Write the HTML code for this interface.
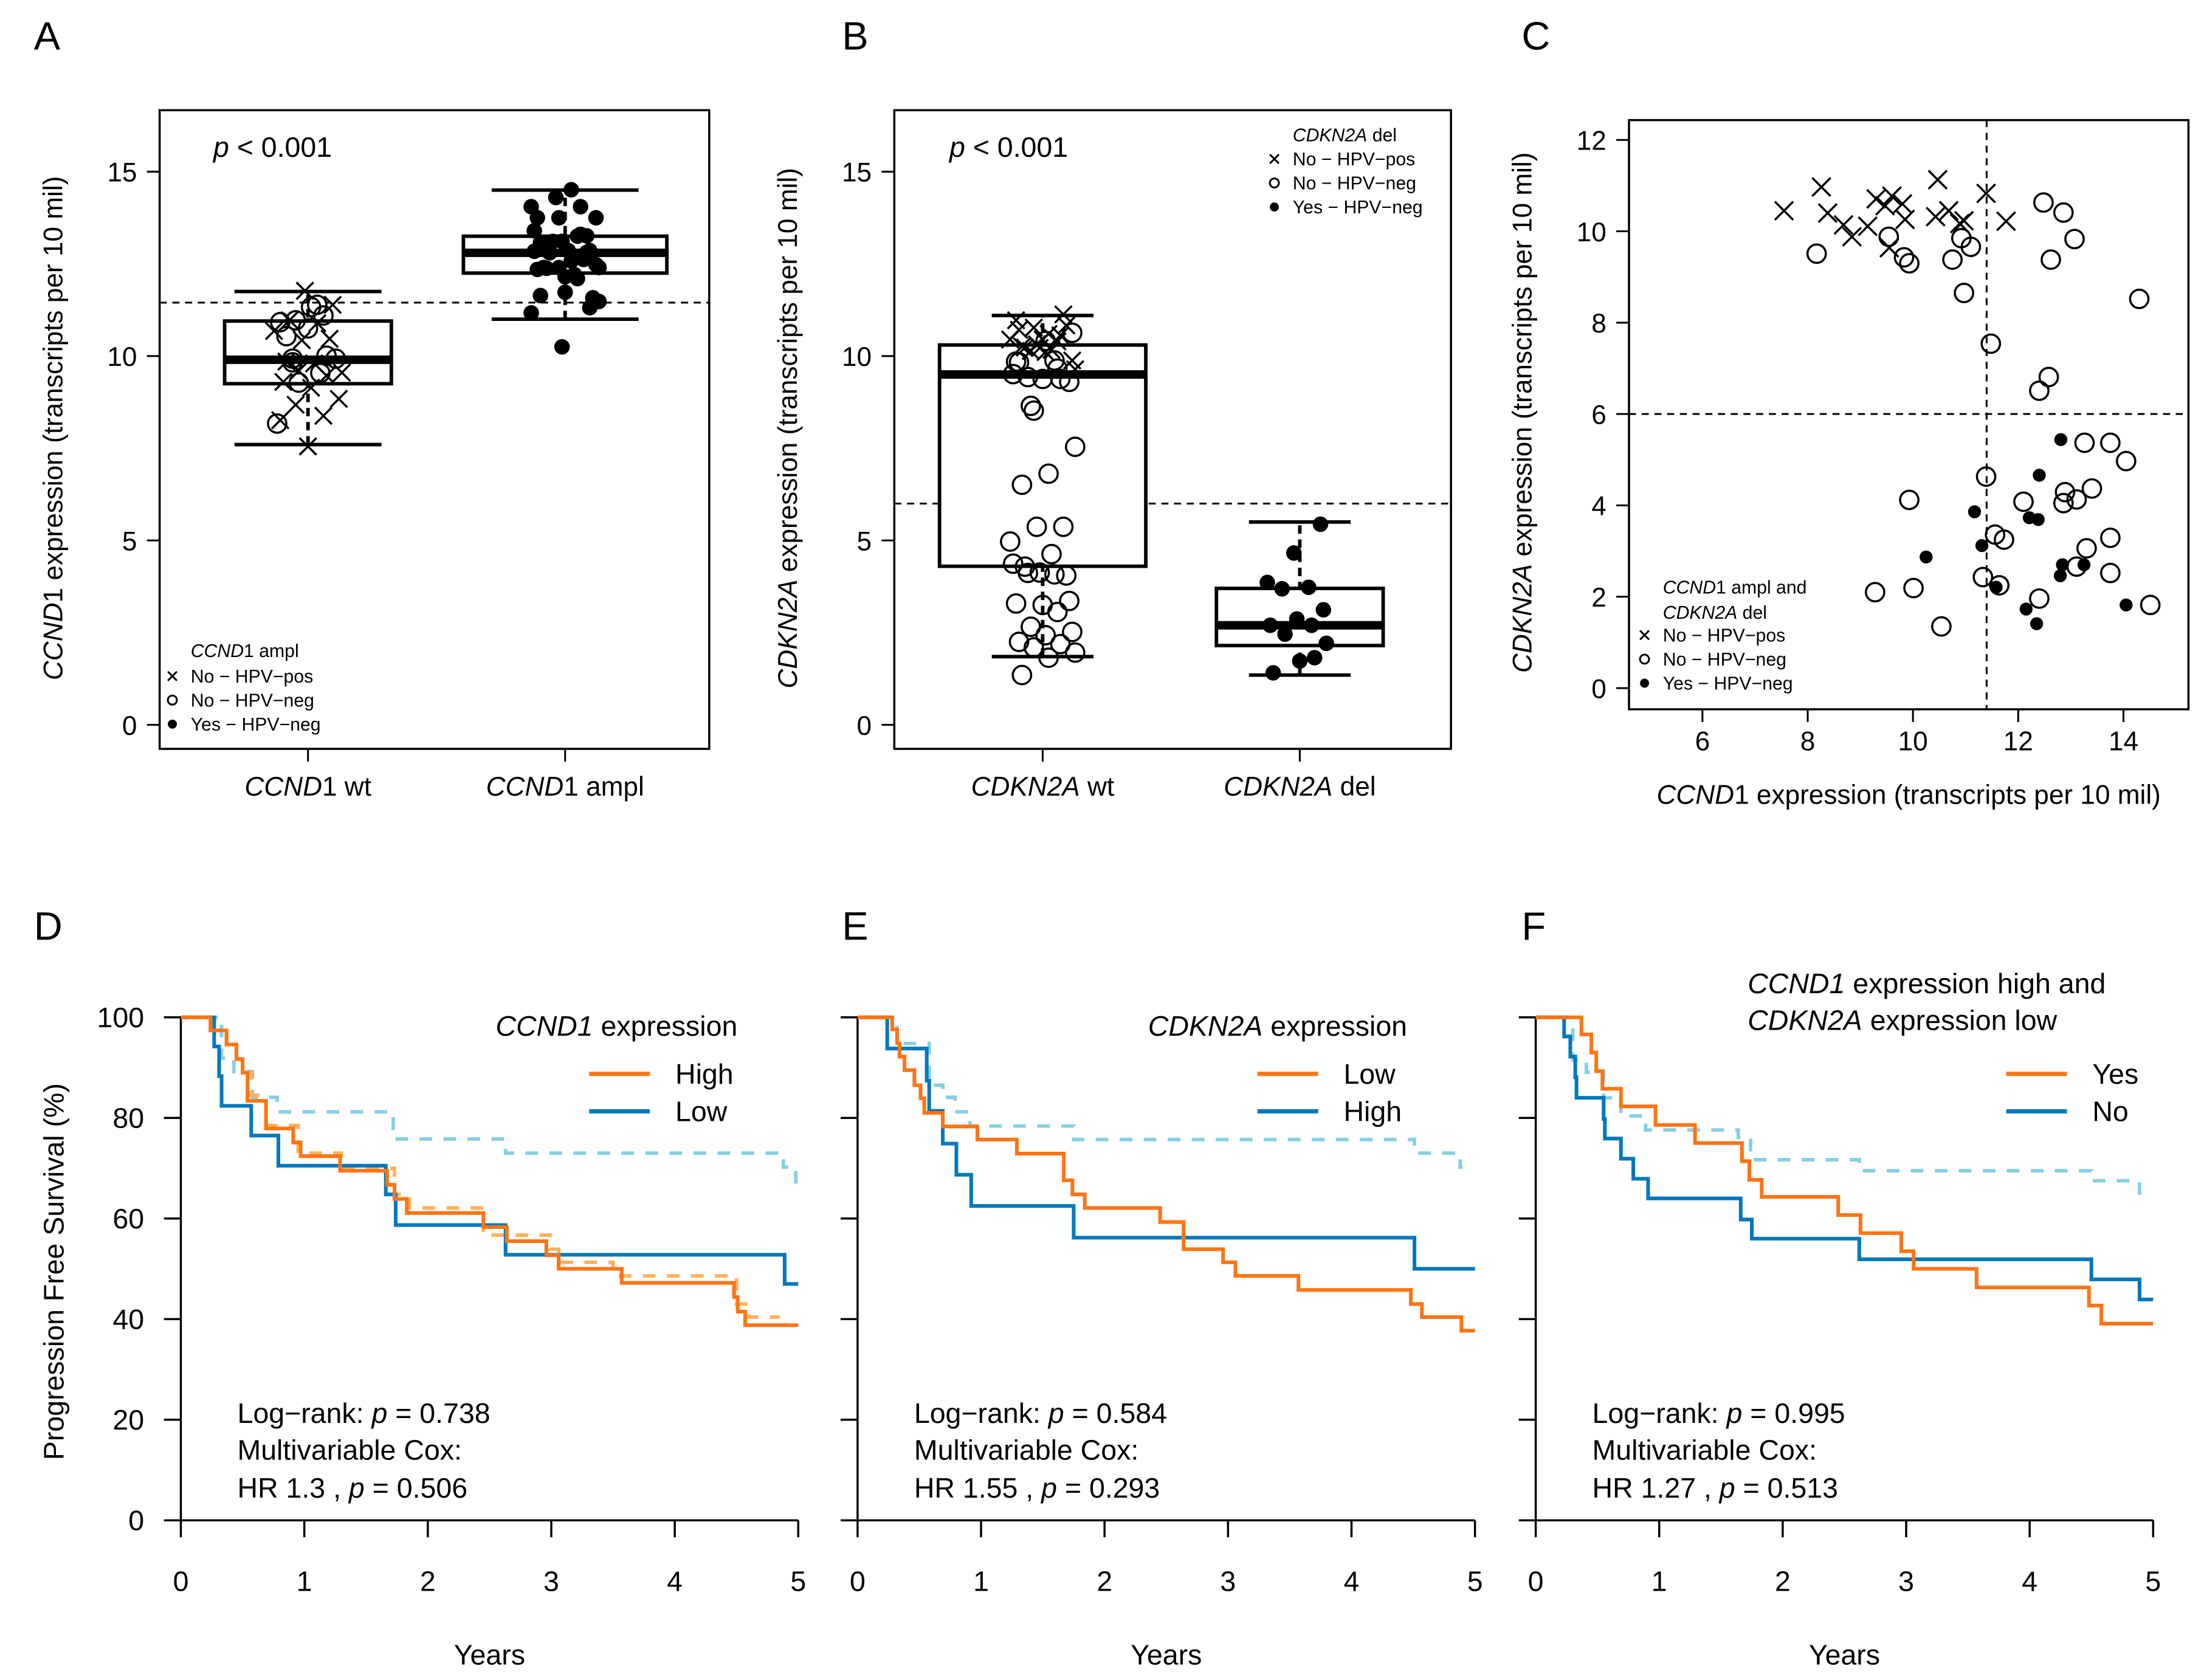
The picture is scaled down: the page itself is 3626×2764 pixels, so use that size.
<!DOCTYPE html>
<html><head><meta charset="utf-8">
<style>
html,body{margin:0;padding:0;background:#fff;}
svg{display:block;}
text{font-family:"Liberation Sans",Arial,sans-serif;fill:#000;}
.it{font-style:italic;}
</style></head>
<body>
<svg id="fig" xmlns="http://www.w3.org/2000/svg" width="3626" height="2764" viewBox="0 0 1560 1189" preserveAspectRatio="none">
<rect x="0" y="0" width="1560" height="1189" fill="#fff"/>
<g font-size="28">
<text x="24" y="35">A</text>
<text x="596" y="35">B</text>
<text x="1077" y="35">C</text>
<text x="24" y="665">D</text>
<text x="596" y="665">E</text>
<text x="1077" y="665">F</text>
</g>
</svg>
<script>
// ===== Scatter data (panel C; also drives A and B) =====
const crossX=[7.55,8.26,8.38,8.68,8.84,9.14,9.30,9.47,9.60,9.55,9.80,9.85,10.47,10.43,10.68,10.89,10.97,11.39,11.77];
const crossY=[10.45,10.97,10.40,10.14,9.88,10.11,10.71,10.56,10.77,9.64,10.60,10.26,11.13,10.32,10.45,10.17,10.23,10.83,10.22];
const openX=[8.17,9.54,9.83,9.93,10.75,10.92,11.10,10.97,12.48,12.86,13.07,12.62,14.30,11.48,12.58,12.40,13.26,13.75,14.05,11.39,12.89,12.86,13.11,13.40,12.10,9.93,11.56,11.73,13.75,13.30,13.11,13.75,11.33,11.64,10.01,9.28,12.40,14.51,10.54];
const openY=[9.51,9.88,9.43,9.30,9.38,9.85,9.66,8.65,10.63,10.41,9.83,9.38,8.52,7.54,6.81,6.51,5.37,5.37,4.97,4.63,4.29,4.05,4.13,4.37,4.08,4.12,3.36,3.25,3.29,3.06,2.66,2.52,2.43,2.25,2.19,2.10,1.96,1.82,1.35];
const fillX=[12.81,12.40,11.17,12.21,12.38,11.31,10.25,12.84,13.25,12.80,11.58,12.15,12.35,14.05];
const fillY=[5.44,4.66,3.86,3.73,3.69,3.12,2.87,2.70,2.70,2.46,2.21,1.73,1.41,1.82];
const ccndCut=[11.45];
const cdknCut=[6.0];
// boxplot stats [lowWhisker,Q1,median,Q3,highWhisker]
const boxA1=[7.6,9.25,9.9,10.95,11.75];
const boxA2=[11.0,12.25,12.8,13.25,14.5];
const boxB1=[1.85,4.3,9.5,10.3,11.1];
const boxB2=[1.35,2.15,2.7,3.7,5.5];

// ===== KM data =====
const dHighT=[0.24,0.37,0.45,0.50,0.54,0.69,0.91,0.97,1.29,1.67,1.73,1.83,2.45,2.64,2.96,3.06,3.57,4.48,4.51,4.57];
const dHighS=[97.4,94.6,91.7,89.0,83.4,77.9,75.1,72.4,69.5,66.7,63.9,61.1,58.3,55.5,52.7,50.0,47.2,44.4,41.5,38.8];
const dLowT=[0.27,0.31,0.33,0.57,0.79,1.66,1.74,2.63,4.89];
const dLowS=[94.2,88.3,82.4,76.5,70.5,64.8,58.7,52.8,47.0];
const dRefT=[0.33,0.43,0.58,0.78,1.72,2.63,4.88,4.98];
const dRefS=[91.9,89.2,84.1,81.2,75.8,73.0,70.2,67.3];
const dHighDT=[0.24,0.37,0.45,0.50,0.57,0.69,0.95,1.30,1.73,1.85,2.45,2.99,3.06,3.50,4.50,4.60];
const dHighDS=[97.4,94.6,91.7,89.0,84.5,78.5,73.0,70.0,64.8,62.1,56.7,53.9,51.3,48.6,43.0,40.4];
const eLowT=[0.28,0.32,0.34,0.38,0.46,0.51,0.54,0.69,0.97,1.29,1.67,1.74,1.84,2.45,2.64,2.96,3.06,3.57,4.48,4.57,4.89];
const eLowS=[97.6,94.8,92.2,89.5,86.5,83.9,81.0,78.3,75.7,72.9,67.6,64.8,62.1,59.3,53.9,51.3,48.6,45.8,43.0,40.4,37.7];
const eHighT=[0.24,0.56,0.58,0.69,0.80,0.92,1.75,4.51];
const eHighS=[93.8,87.4,81.4,74.9,68.7,62.5,56.2,50.0];
const eRefT=[0.32,0.58,0.69,0.79,0.91,1.75,4.51,4.88];
const eRefS=[94.8,86.5,84.1,81.2,78.4,75.7,73.0,70.2];
const fYesT=[0.37,0.45,0.49,0.54,0.69,0.97,1.29,1.67,1.73,1.83,2.45,2.63,2.96,3.06,3.57,4.48,4.58];
const fYesS=[96.6,93.0,89.3,85.8,82.3,78.6,75.0,71.4,67.7,64.3,60.7,57.1,53.5,50.0,46.3,42.7,39.1];
const fNoT=[0.23,0.28,0.32,0.33,0.55,0.56,0.69,0.79,0.91,1.66,1.75,2.62,4.50,4.89];
const fNoS=[96.2,92.2,88.1,84.0,79.8,75.9,71.9,67.9,64.0,59.8,56.0,51.9,47.9,43.9];
const fRefT=[0.30,0.41,0.55,0.69,0.89,1.64,1.74,2.62,4.50,4.89];
const fRefS=[91.5,89.1,84.0,80.4,77.6,76.1,71.7,69.5,67.5,62.8];
const survTicks=[0,20,40,60,80,100];
const yearTicks=[0,1,2,3,4,5];
const boxTicks=[0,5,10,15];
const cXTicks=[6,8,10,12,14];
const cYTicks=[0,2,4,6,8,10,12];

const NS="http://www.w3.org/2000/svg";
const svg=document.getElementById('fig');
function mk(tag,attrs,parent){const e=document.createElementNS(NS,tag);for(const k in attrs)e.setAttribute(k,attrs[k]);(parent||svg).appendChild(e);return e;}
function txt(str,x,y,size,anchor,parent){const e=mk('text',{x:x,y:y,'font-size':size,'text-anchor':anchor||'start'},parent);e.innerHTML=str;return e;}
let el;

function cross(x,y,h,sw,g){const e=mk('path',{d:`M${x-h},${y-h}L${x+h},${y+h}M${x-h},${y+h}L${x+h},${y-h}`,stroke:'#000','stroke-width':sw,fill:'none'},g);return e;}
function ocirc(x,y,r,sw,g){return mk('circle',{cx:x,cy:y,r:r,stroke:'#000','stroke-width':sw,fill:'none'},g);}
function fcirc(x,y,r,g){return mk('circle',{cx:x,cy:y,r:r,fill:'#000'},g);}

function boxPanel(opt){
  const g=mk('g',{});
  
  
  const yS=v=>opt.y0-v*opt.k;
  el=mk('rect',{x:opt.L,y:opt.T,width:opt.R-opt.L,height:opt.B-opt.T,fill:'none',stroke:'#000','stroke-width':1.5},g);
  
  
  boxTicks.forEach(t=>{
    el=mk('line',{x1:opt.L-9,x2:opt.L,y1:yS(t),y2:yS(t),stroke:'#000','stroke-width':1.3},g);
    
    
    el=txt(String(t),opt.L-16,yS(t)+7,19,'end',g);
    
    
  });
  opt.cats.forEach((c,i)=>{
    el=mk('line',{x1:c,x2:c,y1:opt.B,y2:opt.B+9,stroke:'#000','stroke-width':1.3},g);
    
    
    el=txt(opt.catLabels[i],c,opt.B+33,19,'middle',g);
    
    
  });
  el=mk('line',{x1:opt.L,x2:opt.R,y1:yS(opt.cut),y2:yS(opt.cut),stroke:'#000','stroke-width':1.3,'stroke-dasharray':'5,4'},g);
  
  
  opt.boxes.forEach((b,i)=>{
    const cx=opt.cats[i],hw=opt.hw[i],ww=opt.ww[i];
    const bg=mk('g',{},g);
    
    
    mk('line',{x1:cx,x2:cx,y1:yS(b[0]),y2:yS(b[4]),stroke:'#000','stroke-width':2.5,'stroke-dasharray':'6,4'},bg);
    mk('line',{x1:cx-ww,x2:cx+ww,y1:yS(b[0]),y2:yS(b[0]),stroke:'#000','stroke-width':2.5},bg);
    mk('line',{x1:cx-ww,x2:cx+ww,y1:yS(b[4]),y2:yS(b[4]),stroke:'#000','stroke-width':2.5},bg);
    mk('rect',{x:cx-hw,y:yS(b[3]),width:2*hw,height:yS(b[1])-yS(b[3]),fill:'#fff',stroke:'#000','stroke-width':2.5},bg);
    mk('line',{x1:cx-hw,x2:cx+hw,y1:yS(b[2]),y2:yS(b[2]),stroke:'#000','stroke-width':6},bg);
  });
  opt.points.forEach((p,j)=>{
    const jit=(((j*37+11)%23)/22-0.5)*opt.jw;
    const x=opt.cats[p.g]+jit,y=yS(p.v);
    if(p.s==='x'){el=cross(x,y,6,1.5,g);}
    else if(p.s==='o'){el=ocirc(x,y,6.5,1.5,g);}
    else{el=fcirc(x,y,5.5,g);}
    
    
  });
  return g;
}
const ptsA=[],ptsB=[];
crossX.forEach(v=>ptsA.push({g:0,v:v,s:'x'}));
openX.forEach(v=>{if(v<ccndCut[0])ptsA.push({g:0,v:v,s:'o'});else ptsA.push({g:1,v:v,s:'f'});});
fillX.forEach(v=>ptsA.push({g:1,v:v,s:'f'}));
crossY.forEach(v=>ptsB.push({g:0,v:v,s:'x'}));
openY.forEach(v=>ptsB.push({g:0,v:v,s:'o'}));
fillY.forEach(v=>ptsB.push({g:1,v:v,s:'f'}));

boxPanel({name:'panel-a-boxplot',L:113,R:502,T:78,B:530,y0:513,k:26.1,cats:[218,400],catLabels:['<tspan class="it">CCND</tspan>1 wt','<tspan class="it">CCND</tspan>1 ampl'],cut:ccndCut[0],boxes:[boxA1,boxA2],hw:[59,72],ww:[52,52],jw:48,points:ptsA});
boxPanel({name:'panel-b-boxplot',L:633,R:1027,T:78,B:530,y0:513,k:26.1,cats:[738,920],catLabels:['<tspan class="it">CDKN2A</tspan> wt','<tspan class="it">CDKN2A</tspan> del'],cut:cdknCut[0],boxes:[boxB1,boxB2],hw:[73,59],ww:[36,36],jw:46,points:ptsB});

el=txt('<tspan class="it">p</tspan> &lt; 0.001',151,111,20,'start');


el=txt('<tspan class="it">p</tspan> &lt; 0.001',672,111,20,'start');


el=txt('<tspan class="it">CCND</tspan>1 expression (transcripts per 10 mil)',0,0,19,'middle');
el.setAttribute('transform','translate(44,303) rotate(-90)');


el=txt('<tspan class="it">CDKN2A</tspan> expression (transcripts per 10 mil)',0,0,19,'middle');
el.setAttribute('transform','translate(564,303) rotate(-90)');



function legend(name,x,ys,title,fs){
  const g=mk('g',{});
  
  
  title.forEach((t,i)=>txt(t,x+16,ys[i],fs,'start',g));
  const n=title.length;
  const lab=['No − HPV−pos','No − HPV−neg','Yes − HPV−neg'];
  lab.forEach((l,i)=>{
    const y=ys[n+i];
    if(i===0)cross(x+3,y-4.5,3.2,1.3,g);
    else if(i===1)ocirc(x+3,y-4.5,3.2,1.3,g);
    else fcirc(x+3,y-4.5,3.2,g);
    txt(l,x+16,y,fs,'start',g);
  });
}
legend('panel-a-legend',119,[465,483,500,517],['<tspan class="it">CCND</tspan>1 ampl'],13);
legend('panel-b-legend',899,[100,117,134,151],['<tspan class="it">CDKN2A</tspan> del'],13);
legend('panel-c-legend',1161,[420,438,454,471,488],['<tspan class="it">CCND</tspan>1 ampl and','<tspan class="it">CDKN2A</tspan> del'],13);

(function(){
  const g=mk('g',{});
  
  
  const L=1153,R=1549,T=85,B=502;
  const xS=v=>1205+(v-6)*37.25, yS=v=>487-v*32.33;
  el=mk('rect',{x:L,y:T,width:R-L,height:B-T,fill:'none',stroke:'#000','stroke-width':1.5},g);
  
  
  cXTicks.forEach(t=>{
    el=mk('line',{x1:xS(t),x2:xS(t),y1:B,y2:B+9,stroke:'#000','stroke-width':1.3},g);
    
    
    el=txt(String(t),xS(t),B+29,19,'middle',g);
    
    
  });
  cYTicks.forEach(t=>{
    el=mk('line',{x1:L-9,x2:L,y1:yS(t),y2:yS(t),stroke:'#000','stroke-width':1.3},g);
    
    
    el=txt(String(t),L-16,yS(t)+7,19,'end',g);
    
    
  });
  el=mk('line',{x1:xS(ccndCut[0]-0.05),x2:xS(ccndCut[0]-0.05),y1:T,y2:B,stroke:'#000','stroke-width':1.3,'stroke-dasharray':'5,4'},g);
  
  
  el=mk('line',{x1:L,x2:R,y1:yS(cdknCut[0]),y2:yS(cdknCut[0]),stroke:'#000','stroke-width':1.3,'stroke-dasharray':'5,4'},g);
  
  
  crossX.forEach((v,i)=>{el=cross(xS(v),yS(crossY[i]),6.5,1.5,g);
    
    });
  openX.forEach((v,i)=>{el=ocirc(xS(v),yS(openY[i]),6.5,1.5,g);
    
    });
  fillX.forEach((v,i)=>{el=fcirc(xS(v),yS(fillY[i]),4.6,g);
    
    });
  el=txt('<tspan class="it">CCND</tspan>1 expression (transcripts per 10 mil)',1351,569,19,'middle',g);
  
  
  el=txt('<tspan class="it">CDKN2A</tspan> expression (transcripts per 10 mil)',0,0,19,'middle',g);
  el.setAttribute('transform','translate(1084,292) rotate(-90)');
  
  
})();

function km(opt){
  const g=mk('g',{});
  
  
  const x0=opt.x0,xS=t=>x0+t*87.4,yS=s=>1076-s*3.56;
  el=mk('line',{x1:x0,x2:x0,y1:yS(0),y2:yS(100),stroke:'#000','stroke-width':1.5},g);
  
  
  el=mk('line',{x1:x0,x2:xS(5),y1:yS(0),y2:yS(0),stroke:'#000','stroke-width':1.5},g);
  
  
  survTicks.forEach(t=>{
    el=mk('line',{x1:x0-12,x2:x0,y1:yS(t),y2:yS(t),stroke:'#000','stroke-width':1.5},g);
    
    
    if(opt.ylabels){el=txt(String(t),x0-26,yS(t)+7,20,'end',g);
      
      }
  });
  yearTicks.forEach(t=>{
    el=mk('line',{x1:xS(t),x2:xS(t),y1:yS(0),y2:yS(0)+12,stroke:'#000','stroke-width':1.5},g);
    
    
    el=txt(String(t),xS(t),1126,20,'middle',g);
    
    
  });
  el=txt('Years',xS(2.5),1178,20,'middle',g);
  
  
  function step(T,S,end){let d=`M${xS(0)},${yS(100)}`;T.forEach((t,i)=>{d+=`H${xS(t)}V${yS(S[i])}`;});d+=`H${xS(end)}`;return d;}
  opt.series.forEach(s=>{
    el=mk('path',{d:step(s.t,s.s,s.end),fill:'none',stroke:s.c,'stroke-width':s.w,'stroke-dasharray':s.dash||'none'},g);
    
    
  });
  opt.title.forEach((t,i)=>{el=txt(t,opt.tx,opt.ty[i],20,opt.ta,g);
    
    });
  opt.leg.forEach((l,i)=>{
    const y=760+i*26.5;
    el=mk('line',{x1:opt.lx,x2:opt.lx+43,y1:y,y2:y,stroke:l.c,'stroke-width':3},g);
    
    
    el=txt(l.t,opt.lx+61,y+7,20,'start',g);
    
    
  });
  el=txt('Log−rank: <tspan class="it">p</tspan> = '+opt.p1,x0+40,1007,20,'start',g);
  
  
  el=txt('Multivariable Cox:',x0+40,1033,20,'start',g);
  
  
  el=txt('HR  '+opt.hr+' , <tspan class="it">p</tspan> = '+opt.p2,x0+40,1060,20,'start',g);
  
  
}
const OR='#FF7413',BL='#0078BD',LB='#86CFE2',LO='#FFB15A';
km({name:'panel-d-km',x0:128,ylabels:true,p1:'0.738',hr:'1.3',p2:'0.506',
  series:[{name:'reference-hpv-pos-curve',t:dRefT,s:dRefS,end:5,c:LB,w:2.5,dash:'9,8'},
          {name:'high-dashed-curve',t:dHighDT,s:dHighDS,end:4.85,c:LO,w:2.5,dash:'9,8'},
          {name:'low-curve',t:dLowT,s:dLowS,end:5,c:BL,w:2.6},
          {name:'high-curve',t:dHighT,s:dHighS,end:5,c:OR,w:2.6}],
  title:['<tspan class="it">CCND1</tspan> expression'],tx:522,ty:[733],ta:'end',lx:417,
  leg:[{t:'High',c:OR},{t:'Low',c:BL}]});
km({name:'panel-e-km',x0:607,ylabels:false,p1:'0.584',hr:'1.55',p2:'0.293',
  series:[{name:'reference-hpv-pos-curve',t:eRefT,s:eRefS,end:4.9,c:LB,w:2.5,dash:'9,8'},
          {name:'high-curve',t:eHighT,s:eHighS,end:5,c:BL,w:2.6},
          {name:'low-curve',t:eLowT,s:eLowS,end:5,c:OR,w:2.6}],
  title:['<tspan class="it">CDKN2A</tspan> expression'],tx:996,ty:[733],ta:'end',lx:890,
  leg:[{t:'Low',c:OR},{t:'High',c:BL}]});
km({name:'panel-f-km',x0:1087,ylabels:false,p1:'0.995',hr:'1.27',p2:'0.513',
  series:[{name:'reference-hpv-pos-curve',t:fRefT,s:fRefS,end:4.9,c:LB,w:2.5,dash:'9,8'},
          {name:'no-curve',t:fNoT,s:fNoS,end:5,c:BL,w:2.6},
          {name:'yes-curve',t:fYesT,s:fYesS,end:5,c:OR,w:2.6}],
  title:['<tspan class="it">CCND1</tspan> expression high and','<tspan class="it">CDKN2A</tspan> expression low'],tx:1237,ty:[703,729],ta:'start',lx:1420,
  leg:[{t:'Yes',c:OR},{t:'No',c:BL}]});
el=txt('Progression Free Survival (%)',0,0,20,'middle');
el.setAttribute('transform','translate(45,900) rotate(-90)');


</script>
</body></html>
